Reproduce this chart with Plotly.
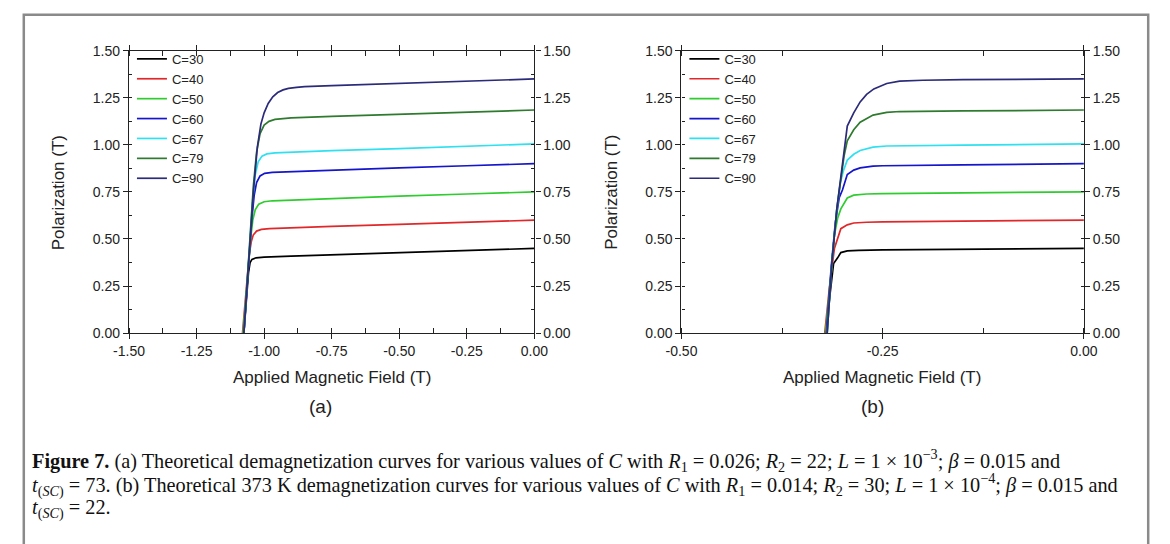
import plotly.graph_objects as go

# ---------------- data ----------------
series_names = ["C=30", "C=40", "C=50", "C=60", "C=67", "C=79", "C=90"]
series_colors = ["#000000", "#e0282b", "#2fcc2f", "#1515cc", "#2fe0f0", "#2e7a2e", "#2b2b7a"]

# Panel (a)
a_x_c30 = [-1.075, -1.066, -1.058, -1.052, -1.045, -1.030, -1.000, -0.900, -0.750, -0.500, -0.250, 0.000]
a_y_c30 = [0.000, 0.180, 0.320, 0.375, 0.392, 0.400, 0.404, 0.409, 0.416, 0.427, 0.438, 0.450]
a_x_c40 = [-1.080, -1.066, -1.055, -1.047, -1.040, -1.028, -1.010, -0.980, -0.900, -0.750, -0.500, -0.250, 0.000]
a_y_c40 = [0.000, 0.250, 0.420, 0.490, 0.522, 0.542, 0.551, 0.555, 0.560, 0.567, 0.578, 0.589, 0.600]
a_x_c50 = [-1.078, -1.062, -1.050, -1.042, -1.033, -1.020, -1.000, -0.970, -0.900, -0.750, -0.500, -0.250, 0.000]
a_y_c50 = [0.000, 0.300, 0.500, 0.600, 0.655, 0.685, 0.698, 0.703, 0.707, 0.715, 0.728, 0.739, 0.750]
a_x_c60 = [-1.075, -1.058, -1.046, -1.037, -1.028, -1.015, -0.998, -0.970, -0.900, -0.750, -0.500, -0.250, 0.000]
a_y_c60 = [0.000, 0.380, 0.600, 0.730, 0.800, 0.835, 0.849, 0.854, 0.858, 0.866, 0.878, 0.889, 0.900]
a_x_c67 = [-1.075, -1.055, -1.043, -1.033, -1.022, -1.008, -0.990, -0.960, -0.900, -0.750, -0.500, -0.250, 0.000]
a_y_c67 = [0.000, 0.450, 0.700, 0.840, 0.910, 0.940, 0.952, 0.957, 0.961, 0.969, 0.980, 0.992, 1.005]
a_x_c79 = [-1.075, -1.052, -1.040, -1.028, -1.015, -1.000, -0.982, -0.960, -0.930, -0.900, -0.750, -0.500, -0.250, 0.000]
a_y_c79 = [0.000, 0.520, 0.780, 0.960, 1.060, 1.105, 1.125, 1.135, 1.140, 1.143, 1.151, 1.163, 1.174, 1.185]
a_x_c90 = [-1.075, -1.050, -1.038, -1.025, -1.012, -1.000, -0.985, -0.968, -0.950, -0.930, -0.910, -0.880, -0.850, -0.750, -0.500, -0.250, 0.000]
a_y_c90 = [0.000, 0.520, 0.780, 0.990, 1.110, 1.170, 1.220, 1.255, 1.278, 1.292, 1.300, 1.305, 1.309, 1.315, 1.328, 1.339, 1.350]

# Panel (b)
b_x_c30 = [-0.321, -0.315, -0.311, -0.306, -0.302, -0.294, -0.280, -0.250, -0.150, 0.000]
b_y_c30 = [0.000, 0.220, 0.370, 0.400, 0.428, 0.437, 0.440, 0.442, 0.445, 0.450]
b_x_c40 = [-0.322, -0.316, -0.310, -0.306, -0.302, -0.294, -0.286, -0.270, -0.250, -0.150, 0.000]
b_y_c40 = [0.000, 0.250, 0.450, 0.500, 0.555, 0.575, 0.585, 0.589, 0.591, 0.595, 0.600]
b_x_c50 = [-0.321, -0.315, -0.310, -0.306, -0.302, -0.294, -0.286, -0.270, -0.250, -0.150, 0.000]
b_y_c50 = [0.000, 0.300, 0.520, 0.610, 0.660, 0.718, 0.733, 0.739, 0.741, 0.745, 0.750]
b_x_c60 = [-0.320, -0.314, -0.309, -0.304, -0.300, -0.294, -0.286, -0.278, -0.262, -0.250, -0.150, 0.000]
b_y_c60 = [0.000, 0.350, 0.580, 0.720, 0.760, 0.842, 0.866, 0.878, 0.887, 0.889, 0.894, 0.900]
b_x_c67 = [-0.319, -0.313, -0.308, -0.303, -0.299, -0.294, -0.286, -0.278, -0.262, -0.245, -0.150, 0.000]
b_y_c67 = [0.000, 0.380, 0.620, 0.790, 0.860, 0.919, 0.950, 0.970, 0.988, 0.994, 0.999, 1.005]
b_x_c79 = [-0.319, -0.313, -0.307, -0.302, -0.298, -0.294, -0.286, -0.278, -0.270, -0.262, -0.245, -0.229, -0.150, 0.000]
b_y_c79 = [0.000, 0.380, 0.660, 0.820, 0.940, 1.022, 1.080, 1.120, 1.140, 1.158, 1.172, 1.177, 1.180, 1.185]
b_x_c90 = [-0.319, -0.313, -0.307, -0.302, -0.298, -0.294, -0.286, -0.278, -0.270, -0.261, -0.245, -0.229, -0.200, -0.150, 0.000]
b_y_c90 = [0.000, 0.380, 0.660, 0.820, 0.960, 1.100, 1.170, 1.228, 1.268, 1.297, 1.326, 1.338, 1.343, 1.346, 1.350]

a_x = [a_x_c30, a_x_c40, a_x_c50, a_x_c60, a_x_c67, a_x_c79, a_x_c90]
a_y = [a_y_c30, a_y_c40, a_y_c50, a_y_c60, a_y_c67, a_y_c79, a_y_c90]
b_x = [b_x_c30, b_x_c40, b_x_c50, b_x_c60, b_x_c67, b_x_c79, b_x_c90]
b_y = [b_y_c30, b_y_c40, b_y_c50, b_y_c60, b_y_c67, b_y_c79, b_y_c90]

y_tickvals = [0.0, 0.25, 0.5, 0.75, 1.0, 1.25, 1.5]
y_ticktext = ["0.00", "0.25", "0.50", "0.75", "1.00", "1.25", "1.50"]
a_x_tickvals = [-1.5, -1.25, -1.0, -0.75, -0.5, -0.25, 0.0]
a_x_ticktext = ["-1.50", "-1.25", "-1.00", "-0.75", "-0.50", "-0.25", "0.00"]
b_x_tickvals = [-0.5, -0.25, 0.0]
b_x_ticktext = ["-0.50", "-0.25", "0.00"]

# ---------------- figure ----------------
W, H = 1170, 544
FONT = "Liberation Sans, Arial, sans-serif"
fig = go.Figure()

for i, name in enumerate(series_names):
    fig.add_trace(go.Scatter(x=a_x[i], y=a_y[i], mode="lines", name=name,
                             line=dict(color=series_colors[i], width=1.7),
                             xaxis="x", yaxis="y", legend="legend"))
for i, name in enumerate(series_names):
    fig.add_trace(go.Scatter(x=b_x[i], y=b_y[i], mode="lines", name=name,
                             line=dict(color=series_colors[i], width=1.7),
                             xaxis="x2", yaxis="y3", legend="legend2"))


def px_x(p):
    return p / W


def px_y(p):
    return 1 - p / H


ax_common = dict(showgrid=False, zeroline=False, showline=True, linecolor="#222",
                 linewidth=1.3, ticks="outside", ticklen=5, tickwidth=1.3, tickcolor="#222",
                 tickfont=dict(family=FONT, size=14, color="#222"), tickmode="array",
                 minor=dict(ticks="inside", ticklen=3, tickwidth=1, tickcolor="#222", dtick=0.125, tick0=0))

dom_y = [px_y(335), px_y(44)]
dom_a = [px_x(116), px_x(532)]
dom_b = [px_x(683), px_x(1096)]

leg_common = dict(xanchor="left", yanchor="top", bgcolor="rgba(0,0,0,0)",
                  font=dict(family=FONT, size=13, color="#222"), tracegroupgap=0, itemwidth=30)

fig.update_layout(
    width=W, height=H,
    margin=dict(l=0, r=0, t=0, b=0),
    paper_bgcolor="white", plot_bgcolor="white",
    hovermode=False,
    xaxis=dict(ax_common, domain=dom_a, range=[-1.5, 0], tickvals=a_x_tickvals,
               ticktext=a_x_ticktext, anchor="y", mirror="allticks"),
    yaxis=dict(ax_common, domain=dom_y, range=[0, 1.5], tickvals=y_tickvals,
               ticktext=y_ticktext, anchor="x"),
    yaxis2=dict(ax_common, range=[0, 1.5], tickvals=y_tickvals, ticktext=y_ticktext,
                overlaying="y", side="right", anchor="x"),
    xaxis2=dict(ax_common, domain=dom_b, range=[-0.5, 0], tickvals=b_x_tickvals,
                ticktext=b_x_ticktext, anchor="y3", mirror="allticks"),
    yaxis3=dict(ax_common, domain=dom_y, range=[0, 1.5], tickvals=y_tickvals,
                ticktext=y_ticktext, anchor="x2"),
    yaxis4=dict(ax_common, range=[0, 1.5], tickvals=y_tickvals, ticktext=y_ticktext,
                overlaying="y3", side="right", anchor="x2"),
    legend=dict(leg_common, x=px_x(119), y=px_y(37)),
    legend2=dict(leg_common, x=px_x(686), y=px_y(37)),
    showlegend=True,
)

# traces bound to the right-hand axes so they render
fig.add_trace(go.Scatter(x=[None], y=[None], xaxis="x", yaxis="y2", showlegend=False))
fig.add_trace(go.Scatter(x=[None], y=[None], xaxis="x2", yaxis="y4", showlegend=False))

ann = []
title_font = dict(family=FONT, size=17, color="#222")
for cx, ylab_x, lab, lab_x in [(324, 44, "(a)", 312), (889, 611, "(b)", 879)]:
    ann.append(dict(text="Applied Magnetic Field (T)", x=px_x(cx), y=px_y(381), xref="paper",
                    yref="paper", showarrow=False, font=title_font, xanchor="center", yanchor="middle"))
    ann.append(dict(text=lab, x=px_x(lab_x), y=px_y(411), xref="paper", yref="paper",
                    showarrow=False, font=dict(family=FONT, size=19, color="#222"),
                    xanchor="center", yanchor="middle"))
    ann.append(dict(text="Polarization (T)", x=px_x(ylab_x), y=px_y(190), xref="paper",
                    yref="paper", showarrow=False, font=title_font, textangle=-90,
                    xanchor="center", yanchor="middle"))

cap_font = dict(family="Liberation Serif, Times New Roman, serif", size=20.3, color="#111")
cap_lines = [
    "<b>Figure 7.</b> (a) Theoretical demagnetization curves for various values of <i>C</i> with "
    "<i>R</i><sub>1</sub> = 0.026; <i>R</i><sub>2</sub> = 22; <i>L</i> = 1 × 10<sup>−3</sup>; "
    "<i>β</i> = 0.015 and",
    "<i>t</i><sub>(<i>SC</i>)</sub> = 73. (b) Theoretical 373 K demagnetization curves for various values of "
    "<i>C</i> with <i>R</i><sub>1</sub> = 0.014; <i>R</i><sub>2</sub> = 30; <i>L</i> = 1 × 10<sup>−4</sup>; "
    "<i>β</i> = 0.015 and",
    "<i>t</i><sub>(<i>SC</i>)</sub> = 22.",
]
for k, line in enumerate(cap_lines):
    ann.append(dict(text=line, x=px_x(14), y=px_y(466 + 25 * k), xref="paper", yref="paper",
                    showarrow=False, font=cap_font, xanchor="left", yanchor="middle", align="left"))
fig.update_layout(annotations=ann)

fig.add_shape(type="rect", xref="paper", yref="paper", x0=px_x(8), x1=px_x(1162),
              y0=-0.1, y1=px_y(7), line=dict(color="#8a8a8a", width=2.5), fillcolor="rgba(0,0,0,0)",
              layer="below")

fig.write_html("out.html")
